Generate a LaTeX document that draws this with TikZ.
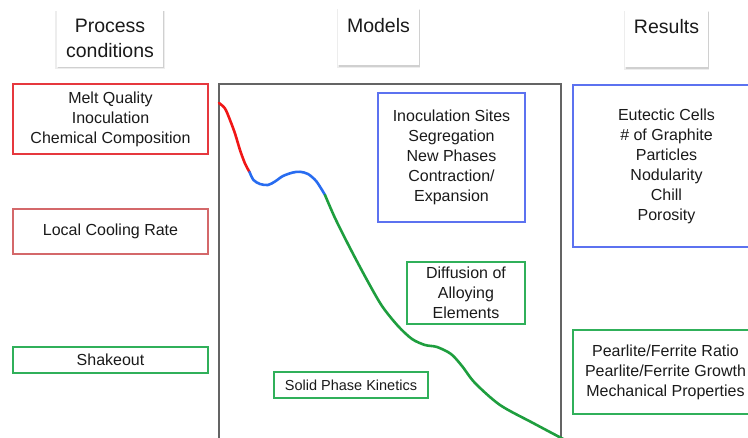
\documentclass[tikz,border=0pt]{standalone}
\usepackage{fontspec}
\setmainfont{Liberation Sans}
\usepackage{tikz}
\usetikzlibrary{shadows}
\usepackage{xcolor}

\definecolor{inktext}{RGB}{26,26,26}
\definecolor{framegray}{RGB}{100,100,100}
\definecolor{curvered}{RGB}{240,22,22}
\definecolor{curveblue}{RGB}{40,108,240}
\definecolor{curvegreen}{RGB}{30,158,62}
\definecolor{boxred}{RGB}{230,56,62}
\definecolor{boxrose}{RGB}{212,104,106}
\definecolor{boxblue}{RGB}{92,114,240}
\definecolor{boxgreen}{RGB}{48,176,90}

\begin{document}
\begin{tikzpicture}[x=1pt, y=-1pt,
    header/.style={fill=white, inner sep=4pt, align=center, text=inktext,
        font=\fontsize{19.5}{25}\selectfont,
        general shadow={shadow scale=1.03, shadow yshift=-1.5pt, opacity=0.07, fill=black},
        drop shadow={shadow xshift=0.5pt, shadow yshift=-1.5pt, opacity=0.12, fill=black}},
    item/.style={draw, line width=1.3pt, inner sep=0pt, align=center, text=inktext,
        font=\fontsize{16}{20}\selectfont},
    curve/.style={line width=2.6pt, line cap=round, line join=round}]
    \useasboundingbox (0,0) rectangle (748,438);
    \clip (0,0) rectangle (748,438);

    % Column headings
    \node[header, minimum width=106pt, minimum height=57pt] (process) at (110,38.5) {Process\\conditions};
    \node[header, anchor=north, minimum width=81pt, text height=20pt, text depth=29pt] (models) at (378.5,8) {Models};
    \node[header, anchor=north, minimum width=83pt, text height=19pt, text depth=30pt] (results) at (666.5,10) {Results};

    % Frame of the cooling curve
    \coordinate (frameBL) at (219,445);
    \coordinate (frameTL) at (219,84);
    \coordinate (frameTR) at (561,84);
    \coordinate (frameBR) at (561,445);
    \draw[framegray, line width=1.1pt] (frameBL) -- (frameTL) -- (frameTR) -- (frameBR);

    % Cooling curve: liquid, solidification, solid
    \draw[curve, curvered] plot[smooth] coordinates {(219,103) (225,108.5) (230,120) (235,133.5) (240,150) (245,163.5) (249.5,172)};
    \draw[curve, curveblue] plot[smooth] coordinates {(249.5,172) (253.5,180) (260,184) (268,185) (275,181.5) (283,176) (293,172.5) (300,171.8) (308,174) (316.5,181.5) (325,195)};
    \draw[curve, curvegreen] plot[smooth] coordinates {(325,195) (335,218) (350,248) (367,280) (382,306) (398,326) (412,339) (425,345) (437,347) (451,354) (462,366) (475,383) (500,405) (533,423) (565,440)};

    % Process conditions
    \node[item, draw=boxred, minimum width=195pt, minimum height=70pt] (melt) at (110.5,119) {Melt Quality\\Inoculation\\Chemical Composition};
    \node[item, draw=boxrose, minimum width=195pt, minimum height=45pt] (cooling) at (110.5,231.5) {Local Cooling Rate};
    \node[item, draw=boxgreen, minimum width=195pt, minimum height=26pt] (shakeout) at (110.5,360) {Shakeout};

    % Models
    \node[item, draw=boxblue, minimum width=147pt, minimum height=129pt] (sites) at (451.5,157.5) {Inoculation Sites\\Segregation\\New Phases\\Contraction/\\Expansion};
    \node[item, draw=boxgreen, minimum width=118pt, minimum height=62pt] (diffusion) at (466,293) {Diffusion of\\Alloying\\Elements};
    \node[item, draw=boxgreen, minimum width=154pt, minimum height=26pt, font=\fontsize{14.5}{18}\selectfont] (kinetics) at (351,385) {Solid Phase Kinetics};

    % Results
    \node[item, draw=boxblue, minimum width=187pt, minimum height=162pt] (eutectic) at (666.5,166) {Eutectic Cells\\\# of Graphite\\Particles\\Nodularity\\Chill\\Porosity};
    \node[item, draw=boxgreen, minimum width=185pt, minimum height=84pt] (pearlite) at (665.5,372) {Pearlite/Ferrite Ratio\\Pearlite/Ferrite Growth\\Mechanical Properties};
\end{tikzpicture}
\end{document}
